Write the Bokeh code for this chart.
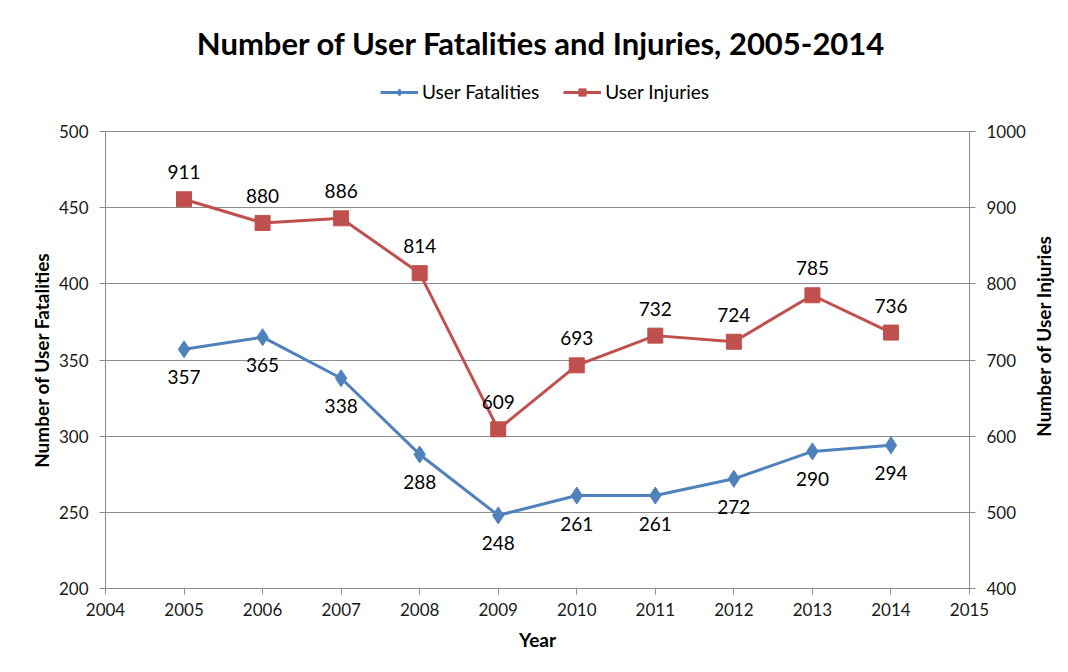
import math
from bokeh.plotting import figure
from bokeh.layouts import column, row
from bokeh.models import (Range1d, LinearAxis, Legend, LegendItem, FixedTicker,
                          ColumnDataSource, Label)
from bokeh.core.properties import value
from bokeh.embed import file_html
from bokeh.resources import INLINE

years = [2005, 2006, 2007, 2008, 2009, 2010, 2011, 2012, 2013, 2014]
fatalities = [357, 365, 338, 288, 248, 261, 261, 272, 290, 294]
injuries = [911, 880, 886, 814, 609, 693, 732, 724, 785, 736]
x_ticks = list(range(2004, 2016))
left_ticks = [200, 250, 300, 350, 400, 450, 500]
right_ticks = [400, 500, 600, 700, 800, 900, 1000]
title_text = "Number of User Fatalities and Injuries, 2005-2014"
right_label = "Number of User Injuries"

BLUE = "#4F81BD"
RED = "#C0504D"
FONT = "Lato"
GRID = "#8C8C8C"

W = 1064
HEAD_H = 118
FRAME_W, FRAME_H = 864, 457
MB_LEFT, MB_RIGHT, MB_TOP, MB_BOTTOM = 105, 60, 131 - HEAD_H, 70
MAIN_W = MB_LEFT + FRAME_W + MB_RIGHT
MAIN_H = MB_TOP + FRAME_H + MB_BOTTOM
SIDE_W = W - MAIN_W

src = ColumnDataSource(dict(x=years, f=fatalities, i=injuries,
                            fl=[str(v) for v in fatalities],
                            il=[str(v) for v in injuries]))

# ---------------- header: title + legend ----------------
h = figure(width=W, height=HEAD_H, output_backend="svg", toolbar_location=None,
           x_range=Range1d(0, W), y_range=Range1d(HEAD_H, 0),
           min_border_left=0, min_border_right=0, min_border_top=0,
           min_border_bottom=0, title=None)
h.axis.visible = False
h.grid.visible = False
h.outline_line_color = None

hlf = h.line("x", "f", source=src, line_color=BLUE, line_width=3)
hmf = h.scatter("x", "f", source=src, marker="diamond", size=16,
                fill_color=BLUE, line_color=BLUE)
hli = h.line("x", "i", source=src, line_color=RED, line_width=3)
hmi = h.scatter("x", "i", source=src, marker="square", size=13,
                fill_color=RED, line_color=RED)

h.add_layout(Label(x=W / 2 + 9, y=42, text=title_text, text_align="center",
                   text_baseline="middle", text_font=FONT,
                   text_font_size="31px", text_font_style="bold",
                   text_color="#000000"))

legend = Legend(items=[LegendItem(label="User Fatalities", renderers=[hlf, hmf]),
                       LegendItem(label="User Injuries", renderers=[hli, hmi])],
                orientation="horizontal", location=(380, 15),
                label_text_font=FONT, label_text_font_size="19px",
                label_text_color="#000000", glyph_width=38, glyph_height=18,
                spacing=24, border_line_color=None, background_fill_alpha=0,
                padding=0, margin=0, label_standoff=4)
h.add_layout(legend, "center")

# ---------------- main chart ----------------
p = figure(frame_width=FRAME_W, frame_height=FRAME_H, output_backend="svg",
           toolbar_location=None, title=None,
           x_range=Range1d(2004, 2015), y_range=Range1d(200, 500),
           min_border_left=MB_LEFT, min_border_right=MB_RIGHT,
           min_border_top=MB_TOP, min_border_bottom=MB_BOTTOM)
p.extra_y_ranges = {"right": Range1d(400, 1000)}

p.outline_line_color = GRID
p.outline_line_width = 1
p.xgrid.visible = False
p.ygrid.grid_line_color = GRID
p.ygrid.grid_line_width = 1
p.ygrid.ticker = FixedTicker(ticks=left_ticks)

def style_axis(ax, standoff):
    ax.axis_line_color = GRID
    ax.major_tick_line_color = GRID
    ax.major_tick_out = 6
    ax.major_tick_in = 0
    ax.minor_tick_line_color = None
    ax.major_label_standoff = standoff
    ax.major_label_text_font = FONT
    ax.major_label_text_font_size = "17px"
    ax.major_label_text_color = "#1a1a1a"
    ax.axis_label_text_font = FONT
    ax.axis_label_text_font_size = "19px"
    ax.axis_label_text_font_style = "bold"
    ax.axis_label_text_color = "#000000"

xa = p.xaxis[0]
xa.ticker = FixedTicker(ticks=x_ticks)
xa.axis_label = "Year"
style_axis(xa, 8)
xa.axis_label_standoff = 9

ya = p.yaxis[0]
ya.ticker = FixedTicker(ticks=left_ticks)
ya.axis_label = "Number of User Fatalities"
style_axis(ya, 11)
ya.axis_label_standoff = 3

ra = LinearAxis(y_range_name="right", ticker=FixedTicker(ticks=right_ticks))
style_axis(ra, 11)
p.add_layout(ra, "right")

p.line("x", "f", source=src, line_color=BLUE, line_width=3)
p.scatter("x", "f", source=src, marker="diamond", size=17,
          fill_color=BLUE, line_color=BLUE)
p.line("x", "i", source=src, line_color=RED, line_width=3,
       y_range_name="right")
p.scatter("x", "i", source=src, marker="square", size=15,
          fill_color=RED, line_color=RED, y_range_name="right")

p.text("x", "f", text="fl", source=src, text_align="center",
       text_baseline="middle", y_offset=28, text_font=value(FONT),
       text_font_size="19px", text_color="#000000")
p.text("x", "i", text="il", source=src, text_align="center",
       text_baseline="middle", y_offset=-27, text_font=value(FONT),
       text_font_size="19px", text_color="#000000", y_range_name="right")

# ---------------- right-hand axis title ----------------
s = figure(width=SIDE_W, height=MAIN_H, output_backend="svg",
           toolbar_location=None, title=None,
           x_range=Range1d(0, SIDE_W), y_range=Range1d(MAIN_H, 0),
           min_border_left=0, min_border_right=0, min_border_top=0,
           min_border_bottom=0)
s.axis.visible = False
s.grid.visible = False
s.outline_line_color = None
s.add_layout(Label(x=1043 - MAIN_W, y=MB_TOP + FRAME_H / 2, text=right_label,
                   angle=math.pi / 2, text_align="center",
                   text_baseline="middle", text_font=FONT,
                   text_font_size="19px", text_font_style="bold",
                   text_color="#000000"))

layout = column(h, row(p, s, spacing=0), spacing=0)
open("out.html", "w").write(file_html(layout, INLINE))
